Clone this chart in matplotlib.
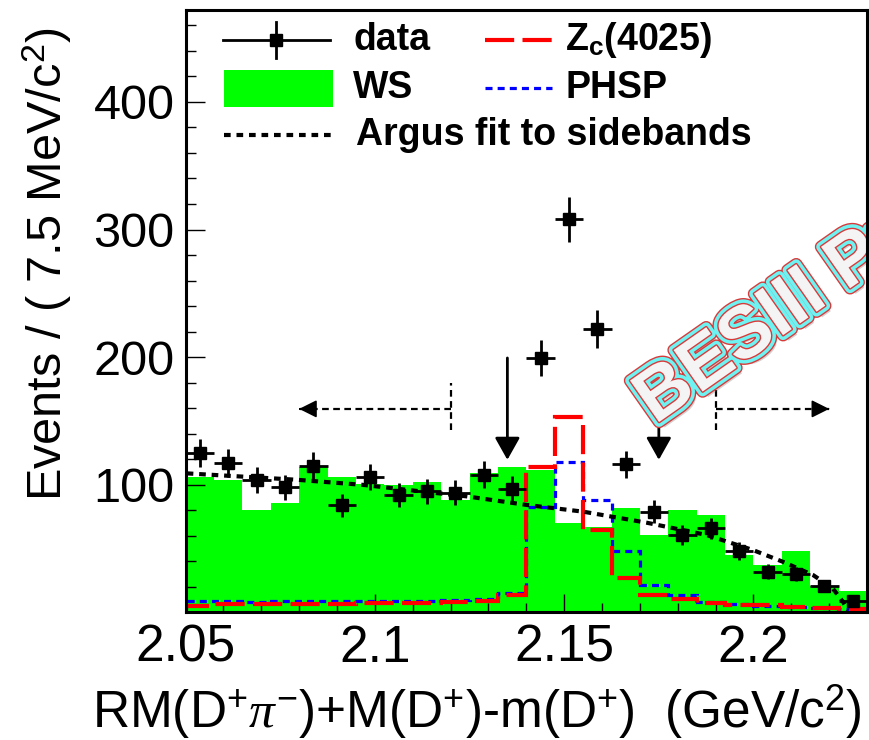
import numpy as np
import matplotlib
matplotlib.use("Agg")
import matplotlib.pyplot as plt
import matplotlib.patheffects as pe
from matplotlib.patches import Rectangle
from matplotlib.ticker import MultipleLocator, FixedLocator

plt.rcParams['font.family'] = ['Liberation Sans', 'DejaVu Sans']
plt.rcParams['mathtext.fontset'] = 'custom'
plt.rcParams['mathtext.rm'] = 'Liberation Sans'
plt.rcParams['mathtext.it'] = 'Liberation Serif:italic'
plt.rcParams['mathtext.bf'] = 'Liberation Sans:bold'

# binning: 24 bins of 7.5 MeV starting at 2.05 GeV
x_lo = 2.05
bin_w = 0.0075
n_bins = 24
edges = x_lo + bin_w * np.arange(n_bins + 1)
centers = 0.5 * (edges[:-1] + edges[1:])

data_counts = [125, 117, 104, 98, 115, 84, 106, 92, 95, 94, 108, 97,
               199, 308, 222, 116, 79, 61, 66, 48, 32, 30, 21, 9]
ws_counts = [106.5, 104, 80.5, 86, 114, 106.5, 100.5, 99.5, 102, 88.5, 109, 114,
             112, 70.5, 67, 82, 61, 80.5, 76.5, 45, 37, 48.5, 20.5, 16.5]
zc_counts = [5, 6.5, 6.5, 6.5, 7, 7, 7.5, 7.5, 7.5, 8, 9, 14,
             114, 153, 65, 27, 14, 10.5, 7.5, 6, 5.5, 4, 3.5, 3]
phsp_counts = [9, 9, 8.5, 9, 9, 9, 9, 9, 9, 9.5, 10.5, 15.5,
               83, 118, 88, 48.5, 21.5, 13.5, 8, 6.5, 5, 4, 3.5, 3]

# Argus background fitted to the sidebands
argus_x = [2.0503, 2.0793, 2.0968, 2.1118, 2.1242, 2.1400, 2.1550, 2.1717,
           2.1875, 2.1998, 2.2077, 2.2157, 2.2209, 2.2236, 2.2249]
argus_y = [109, 104, 100, 95, 91, 84.3, 79, 70.4,
           60.8, 49, 39.8, 29.4, 19, 8.5, 2]

sb_left = (2.08, 2.12)
sb_right = (2.19, 2.22)
sig_window = (2.135, 2.175)
sb_y = 159.5
sb_tick = (143, 180)
sig_arrow = (199.4, 119.6)

fig = plt.figure(figsize=(8.69, 7.40), dpi=100)
ax = fig.add_axes([0.2135, 0.1723, 0.7843, 0.8142])

ax.stairs(ws_counts, edges, fill=True, color='#00ff00', lw=0, zorder=1)
ax.stairs(phsp_counts, edges, color='#0000ff', lw=2.3, ls=(0, (2.2, 1.6)), zorder=2)
ax.stairs(zc_counts, edges, color='#ff0000', lw=3, ls=(0, (7, 2)), zorder=3)
ax.plot(argus_x, argus_y, color='black', lw=3, ls=(0, (1.6, 1.4)), zorder=4)

ax.errorbar(centers, data_counts, xerr=bin_w / 2, yerr=np.sqrt(data_counts),
            fmt='s', ms=9, color='black', elinewidth=2, capsize=0, zorder=6)

# sideband markers
for (a, b), tip in [(sb_left, sb_left[0]), (sb_right, sb_right[1])]:
    base = b if tip == a else a
    ax.plot([base, tip], [sb_y, sb_y], color='black', lw=1.6, ls=(0, (3, 2)), zorder=5)
    ax.plot([base, base], sb_tick, color='black', lw=1.6, ls=(0, (3, 2)), zorder=5)
    ax.annotate('', xy=(tip, sb_y), xytext=(tip + (0.001 if tip == a else -0.001), sb_y),
                arrowprops=dict(arrowstyle='-|>,head_length=0.9,head_width=0.45',
                                color='black', lw=1.2, mutation_scale=12), zorder=5)

# signal window
for xs in sig_window:
    ax.annotate('', xy=(xs, sig_arrow[1]), xytext=(xs, sig_arrow[0]),
                arrowprops=dict(arrowstyle='-|>,head_length=0.8,head_width=0.45',
                                color='black', lw=2, mutation_scale=17,
                                shrinkA=0, shrinkB=0), zorder=5)

# watermark
wm = ax.text(2.174, 147, 'BESIII Preliminary', rotation=35, fontsize=53,
             fontweight='bold', color='#f4f4f4', ha='left', va='baseline',
             rotation_mode='anchor', zorder=5.5, clip_on=True)
wm.set_path_effects([pe.SimplePatchShadow(offset=(4, -4), shadow_rgbFace='gray', alpha=0.35),
                     pe.Stroke(linewidth=9, foreground='#d83a3a'),
                     pe.Stroke(linewidth=7, foreground='#6ff2f2'),
                     pe.Stroke(linewidth=2, foreground='#d83a3a'),
                     pe.Normal()])

ax.set_xlim(x_lo, edges[-1])
ax.set_ylim(0, 472)
ax.xaxis.set_major_locator(FixedLocator([2.05, 2.1, 2.15, 2.2]))
ax.set_xticklabels(['2.05', '2.1', '2.15', '2.2'])
ax.xaxis.set_minor_locator(MultipleLocator(0.01))
ax.yaxis.set_major_locator(FixedLocator([100, 200, 300, 400]))
ax.yaxis.set_minor_locator(MultipleLocator(20))
ax.tick_params(axis='x', which='major', direction='in', length=13, width=1, labelsize=37, pad=8)
ax.tick_params(axis='x', which='minor', direction='in', length=6.5, width=1)
ax.tick_params(axis='y', which='major', direction='in', length=14, width=1, labelsize=35, pad=8)
ax.tick_params(axis='y', which='minor', direction='in', length=7, width=1)
for s in ax.spines.values():
    s.set_linewidth(2.2)
    s.set_zorder(7)

ax.set_xlabel(r'RM(D$^{+}\pi^{-}$)+M(D$^{+}$)-m(D$^{+}$)  (GeV/c$^{2}$)', fontsize=37)
ax.xaxis.set_label_coords(0.427, -0.118)
ax.set_ylabel(r'Events / ( 7.5 MeV/c$^{2}$)', fontsize=35)
ax.yaxis.set_label_coords(-0.163, 0.578)

# legend
tr = ax.transAxes
leg_fs = 27
ax.plot([0.055, 0.212], [0.950, 0.950], color='black', lw=2, transform=tr, zorder=8)
ax.plot([0.133, 0.133], [0.920, 0.980], color='black', lw=2, transform=tr, zorder=8)
ax.plot([0.133], [0.950], 's', ms=9, color='black', transform=tr, zorder=8)
ax.text(0.246, 0.950, 'data', fontsize=leg_fs, fontweight='bold', va='center', transform=tr)
ax.plot([0.439, 0.538], [0.950, 0.950], color='#ff0000', lw=3, ls=(0, (7, 2)), transform=tr)
ax.text(0.557, 0.950, r'Z$_{\mathbf{c}}$(4025)', fontsize=leg_fs, fontweight='bold',
        va='center', transform=tr)
ax.add_patch(Rectangle((0.0565, 0.839), 0.16, 0.061, facecolor='#00ff00', edgecolor='none',
                       transform=tr, zorder=8))
ax.text(0.246, 0.8705, 'WS', fontsize=leg_fs, fontweight='bold', va='center', transform=tr)
ax.plot([0.439, 0.538], [0.8705, 0.8705], color='#0000ff', lw=2.3, ls=(0, (2.2, 1.6)), transform=tr)
ax.text(0.558, 0.8705, 'PHSP', fontsize=leg_fs, fontweight='bold', va='center', transform=tr)
ax.plot([0.0565, 0.2164], [0.7925, 0.7925], color='black', lw=3, ls=(0, (1.6, 1.4)), transform=tr)
ax.text(0.250, 0.7925, 'Argus fit to sidebands', fontsize=leg_fs, fontweight='bold',
        va='center', transform=tr)

fig.savefig('out.png', dpi=100)
